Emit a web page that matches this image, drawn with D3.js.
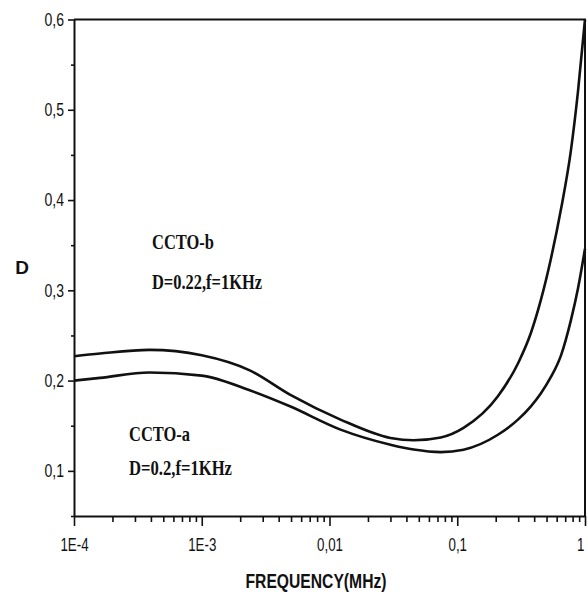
<!DOCTYPE html>
<html>
<head>
<meta charset="utf-8">
<script src="https://cdn.jsdelivr.net/npm/d3@7"></script>
<style>
  html, body { margin: 0; padding: 0; background: #fff; }
  svg { display: block; }
</style>
</head>
<body>
<svg id="chart" width="588" height="593"></svg>
<script>
// ===========================
// DADES (llegides de la figura)
// ===========================

// freqüència en MHz
const freqs = [1e-4, 1.6e-4, 3.9e-4, 1e-3, 2.4e-3, 4.9e-3, 0.0122, 0.03, 0.0456, 0.0743,
               0.112, 0.208, 0.30, 0.377, 0.452, 0.541, 0.649, 0.776, 0.881, 1];

const dCCTOb = [0.227, 0.230, 0.234, 0.228, 0.211, 0.1844, 0.1568, 0.1365, 0.1339, 0.137,
                0.1476, 0.1826, 0.2195, 0.2527, 0.2896, 0.335, 0.39, 0.455, 0.52, 0.6];

const dCCTOa = [0.200, 0.203, 0.209, 0.2055, 0.189, 0.1715, 0.1457, 0.129, 0.1236, 0.1208,
                0.1235, 0.140, 0.157, 0.1715, 0.186, 0.204, 0.228, 0.267, 0.302, 0.346];

const xTickValues = [1e-4, 1e-3, 0.01, 0.1, 1];
const xTickLabels = ["1E-4", "1E-3", "0,01", "0,1", "1"];
const yTickValues = [0.1, 0.2, 0.3, 0.4, 0.5, 0.6];
const yMinorValues = [0.05, 0.15, 0.25, 0.35, 0.45, 0.55];

const annotations = [
  { text: "CCTO-b", x: 152, y: 249, w: 62 },
  { text: "D=0.22,f=1KHz", x: 152, y: 289, w: 110 },
  { text: "CCTO-a", x: 129, y: 441, w: 61 },
  { text: "D=0.2,f=1KHz", x: 129, y: 475, w: 103 }
];

// ===========================
// ESCALES
// ===========================

const svg = d3.select("#chart");
const plotLeft = 74, plotRight = 585, plotTop = 19.5, plotBottom = 516;

const x = d3.scaleLog().domain([1e-4, 1]).range([plotLeft, plotRight]);
const y = d3.scaleLinear().domain([0.05, 0.6]).range([plotBottom, plotTop]);

// comprimeix el text horitzontalment (fonts estretes de l'original)
function condense(sel, k) {
  sel.each(function () {
    const w = this.getComputedTextLength();
    d3.select(this)
      .attr("textLength", w * k)
      .attr("lengthAdjust", "spacingAndGlyphs");
  });
}

// ===========================
// EIXOS
// ===========================

const xMinor = [];
for (let e = -4; e < 0; e++) {
  for (let m = 2; m <= 9; m++) xMinor.push(m * Math.pow(10, e));
}

svg.append("g")
  .attr("transform", `translate(0,${plotBottom})`)
  .call(d3.axisBottom(x).tickValues(xMinor).tickSize(6).tickSizeOuter(0).tickFormat(""))
  .call(g => g.select(".domain").remove())
  .call(g => g.selectAll("line").attr("stroke", "#111").attr("stroke-width", 1.6));

const xAxis = svg.append("g")
  .attr("transform", `translate(0,${plotBottom})`)
  .call(d3.axisBottom(x).tickValues(xTickValues).tickSize(10).tickSizeOuter(0)
    .tickFormat((d, i) => xTickLabels[i]));

xAxis.select(".domain").attr("stroke", "#111").attr("stroke-width", 2);
xAxis.selectAll("line").attr("stroke", "#111").attr("stroke-width", 1.6);
xAxis.selectAll("text")
  .attr("y", 22)
  .attr("dy", "0.71em")
  .style("font-family", "'Liberation Sans', Arial, sans-serif")
  .style("font-size", "18px")
  .attr("fill", "#111")
  .call(condense, 0.74);

// l'etiqueta "1" queda enganxada a la vora dreta
xAxis.selectAll(".tick")
  .filter(d => d === 1)
  .select("text")
  .attr("text-anchor", "end")
  .attr("x", -1);

svg.append("g")
  .attr("transform", `translate(${plotLeft},0)`)
  .call(d3.axisLeft(y).tickValues(yMinorValues).tickSize(3).tickSizeOuter(0).tickFormat(""))
  .call(g => g.select(".domain").remove())
  .call(g => g.selectAll("line").attr("stroke", "#111").attr("stroke-width", 1.6));

const yAxis = svg.append("g")
  .attr("transform", `translate(${plotLeft},0)`)
  .call(d3.axisLeft(y).tickValues(yTickValues).tickSize(6).tickSizeOuter(0)
    .tickFormat(d => d3.format(".1f")(d).replace(".", ",")));

yAxis.select(".domain").attr("stroke", "#111").attr("stroke-width", 2);
yAxis.selectAll("line").attr("stroke", "#111").attr("stroke-width", 1.6);
yAxis.selectAll("text")
  .attr("x", -10)
  .style("font-family", "'Liberation Sans', Arial, sans-serif")
  .style("font-size", "18px")
  .attr("fill", "#111")
  .call(condense, 0.78);

// marc superior i dret
svg.append("path")
  .attr("d", `M${plotLeft},${plotTop}H${plotRight}V${plotBottom}`)
  .attr("fill", "none")
  .attr("stroke", "#111")
  .attr("stroke-width", 2);

// ===========================
// CORBES
// ===========================

const line = d3.line()
  .x(d => x(d[0]))
  .y(d => y(d[1]))
  .curve(d3.curveMonotoneX);

[dCCTOa, dCCTOb].forEach(serie => {
  svg.append("path")
    .datum(freqs.map((f, i) => [f, serie[i]]))
    .attr("d", line)
    .attr("fill", "none")
    .attr("stroke", "#111")
    .attr("stroke-width", 2.6)
    .attr("stroke-linejoin", "round");
});

// ===========================
// TEXTOS
// ===========================

svg.append("text")
  .attr("x", 22)
  .attr("y", 274)
  .attr("text-anchor", "middle")
  .text("D")
  .style("font-family", "'Liberation Sans', Arial, sans-serif")
  .style("font-size", "19px")
  .style("font-weight", "bold")
  .attr("fill", "#111");

svg.append("text")
  .attr("x", 316)
  .attr("y", 588)
  .attr("text-anchor", "middle")
  .text("FREQUENCY(MHz)")
  .style("font-family", "'Liberation Sans', Arial, sans-serif")
  .style("font-size", "20px")
  .style("font-weight", "bold")
  .attr("fill", "#111")
  .attr("textLength", 141)
  .attr("lengthAdjust", "spacingAndGlyphs");

svg.selectAll(".annot")
  .data(annotations)
  .enter()
  .append("text")
  .attr("class", "annot")
  .attr("x", d => d.x)
  .attr("y", d => d.y)
  .text(d => d.text)
  .style("font-family", "'Liberation Serif', 'Times New Roman', serif")
  .style("font-size", "22px")
  .style("font-weight", "bold")
  .attr("fill", "#111")
  .attr("textLength", d => d.w)
  .attr("lengthAdjust", "spacingAndGlyphs");
</script>
</body>
</html>
